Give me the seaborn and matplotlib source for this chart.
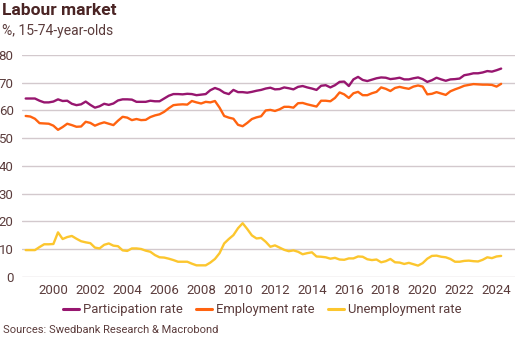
import numpy as np
import pandas as pd
import matplotlib
matplotlib.use("Agg")
import matplotlib.pyplot as plt
import seaborn as sns
from matplotlib.lines import Line2D

# ---- data (quarterly, starting 1998 Q3) ----
start_year = 1998.5
participation = [
    64.3, 64.3, 64.3, 63.5, 62.9, 62.9, 63.2, 64.0, 63.4, 63.5,
    62.4, 61.9, 62.2, 63.2, 62.0, 61.0, 61.5, 62.4, 62.0, 62.5,
    63.6, 64.0, 64.0, 63.9, 63.1, 63.1, 63.1, 63.5, 63.3, 63.3,
    64.3, 65.3, 65.9, 65.9, 65.8, 66.0, 65.9, 65.5, 65.7, 65.9,
    67.3, 68.1, 67.5, 66.4, 65.9, 67.4, 66.6, 66.6, 66.4, 66.7,
    67.1, 67.4, 67.9, 68.2, 67.6, 67.7, 68.3, 68.0, 67.6, 68.5,
    68.8, 68.3, 67.9, 67.4, 68.9, 69.1, 68.3, 69.1, 70.3, 70.4,
    68.8, 71.2, 72.1, 71.0, 70.6, 71.1, 71.6, 71.9, 71.8, 71.3,
    71.5, 71.8, 71.2, 71.2, 71.6, 71.9, 71.3, 70.3, 70.9, 71.8,
    71.2, 70.7, 71.2, 71.3, 71.5, 72.7, 73.0, 73.4, 73.4, 73.7,
    74.2, 74.0, 74.5, 75.1,
]
employment = [
    58.0, 57.8, 57.0, 55.4, 55.3, 55.2, 54.5, 53.0, 54.0, 55.2,
    54.7, 54.1, 54.2, 55.9, 55.5, 54.5, 55.2, 55.7, 55.2, 54.7,
    56.3, 57.7, 57.4, 56.5, 56.9, 56.5, 56.6, 57.6, 58.2, 58.6,
    59.5, 60.8, 61.9, 62.1, 62.2, 62.1, 63.4, 62.9, 62.5, 63.1,
    62.9, 63.4, 61.0, 58.0, 57.4, 57.0, 54.8, 54.3, 55.5, 56.9,
    57.5, 57.9, 60.0, 60.2, 59.8, 60.4, 61.3, 61.3, 61.0, 62.6,
    62.7, 62.2, 61.8, 61.4, 63.5, 63.5, 63.3, 64.5, 66.5, 65.8,
    64.5, 66.2, 66.7, 65.5, 65.5, 66.2, 66.7, 68.3, 67.8, 67.0,
    68.1, 68.5, 68.1, 67.8, 68.6, 69.0, 68.6, 65.8, 66.0, 66.6,
    66.1, 65.6, 66.9, 67.6, 68.2, 68.9, 69.2, 69.5, 69.4, 69.3,
    69.3, 69.2, 68.6, 69.6,
]
unemployment = [
    9.6, 9.6, 9.6, 10.7, 11.7, 11.7, 11.8, 16.0, 13.6, 14.3,
    14.7, 13.7, 12.8, 12.4, 12.1, 10.5, 10.2, 11.5, 12.0, 11.2,
    11.0, 9.5, 9.3, 10.2, 10.2, 10.0, 9.4, 9.0, 7.8, 7.0,
    6.9, 6.5, 6.0, 5.4, 5.4, 5.4, 4.7, 4.1, 4.1, 4.1,
    5.1, 6.4, 8.5, 12.0, 13.6, 15.0, 17.5, 19.3, 17.2, 14.9,
    13.8, 14.0, 12.6, 10.8, 11.3, 10.5, 9.7, 9.2, 9.5, 9.0,
    8.1, 8.5, 8.8, 7.3, 7.2, 7.0, 6.5, 6.8, 6.2, 6.1,
    6.6, 6.6, 7.3, 7.2, 6.3, 6.0, 6.2, 5.2, 5.6, 6.4,
    5.2, 5.1, 4.6, 5.0, 4.5, 4.0, 4.9, 6.5, 7.5, 7.6,
    7.2, 7.0, 6.4, 5.4, 5.4, 5.7, 5.8, 5.6, 5.5, 6.1,
    7.0, 6.7, 7.3, 7.5,
]
series_names = ["Participation rate", "Employment rate", "Unemployment rate"]
year_ticks = list(range(2000, 2025, 2))
y_ticks = [0, 10, 20, 30, 40, 50, 60, 70, 80]

title = "Labour market"
subtitle = "%, 15-74-year-olds"
source = "Sources: Swedbank Research & Macrobond"

# ---- build table ----
n = len(participation)
years = start_year + 0.25 * np.arange(n)
df = pd.concat([
    pd.DataFrame({"year": years, "value": vals, "series": name})
    for name, vals in zip(series_names, [participation, employment, unemployment])
])

colors = ["#97166f", "#ff6310", "#fcc62e"]
text_col = "#5b3c3c"
title_col = "#4a2424"
grid_col = "#d3c9cd"

sns.set_theme(style="white")
plt.rcParams["font.family"] = ["Roboto", "DejaVu Sans"]

fig = plt.figure(figsize=(5.29, 3.40), dpi=100)
ax = fig.add_axes([22 / 529, 1 - 276.7 / 340, (515 - 22) / 529, (276.7 - 55) / 340])

sns.lineplot(data=df, x="year", y="value", hue="series", hue_order=series_names,
             palette=colors, linewidth=1.7, ax=ax, legend=False)

ax.set_xlim(1998.3, 2025.0)
ax.set_ylim(0, 80)
ax.set_xticks(year_ticks)
ax.set_xticklabels([str(y) for y in year_ticks])
ax.set_yticks(y_ticks)
ax.set_xlabel("")
ax.set_ylabel("")
ax.grid(axis="y", color=grid_col, linewidth=1.0)
ax.grid(axis="x", visible=False)
ax.set_axisbelow(True)
for s in ax.spines.values():
    s.set_visible(False)
ax.tick_params(axis="both", length=0, labelsize=9.5, colors=text_col)
ax.tick_params(axis="y", pad=6)
ax.tick_params(axis="x", pad=5)

fig.text(0.004, 1 - 3 / 340, title, fontsize=12.5, fontweight="bold",
         color=title_col, va="top", ha="left")
fig.text(0.004, 1 - 24 / 340, subtitle, fontsize=10, color=text_col,
         va="top", ha="left")
fig.text(0.006, 1 - 330 / 340, source, fontsize=8, color=text_col,
         va="center", ha="left")

handles = [Line2D([0], [0], color=c, linewidth=2.2) for c in colors]
leg = fig.legend(handles, series_names, loc="center",
                 bbox_to_anchor=(262 / 529, 1 - 310 / 340), ncol=3,
                 frameon=False, fontsize=9.4, handlelength=1.25,
                 handletextpad=0.3, columnspacing=1.0)
for t in leg.get_texts():
    t.set_color(text_col)

fig.savefig("out.png", dpi=100)
